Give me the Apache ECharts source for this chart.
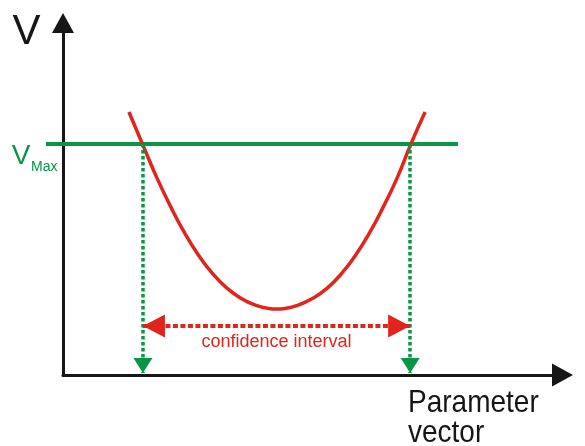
<!DOCTYPE html>
<html>
<head>
<meta charset="utf-8">
<script src="https://cdn.jsdelivr.net/npm/echarts@6/dist/echarts.min.js"></script>
<style>
html,body{margin:0;padding:0;background:#ffffff;}
#chart{width:585px;height:446px;}
</style>
</head>
<body>
<div id="chart"></div>
<script>
// ---- data (arbitrary units) ----
const curveX = [1.32, 1.60, 1.88, 2.16, 2.44, 2.72, 3.00, 3.28, 3.56, 3.84, 4.12, 4.28, 4.44, 4.72, 5.00, 5.29, 5.57, 5.85, 6.13, 6.41, 6.69, 6.97, 7.25];
const curveV = [7.47, 6.53, 5.60, 4.77, 4.02, 3.39, 2.87, 2.47, 2.18, 1.99, 1.89, 1.875, 1.89, 1.99, 2.18, 2.47, 2.87, 3.39, 4.02, 4.77, 5.60, 6.58, 7.47];
const vMax = 6.56;
const vMaxLineX = [-0.34, 7.91];
const ciBounds = [1.60, 6.95];
const ciArrowV = 1.39;
const dropEndV = 0.06;
const axisXRange = [0, 10];
const axisVRange = [0, 10];
const yAxisTitle = 'V';
const vMaxMain = 'V';
const vMaxSub = 'Max';
const xAxisTitle = 'Parameter\nvector';
const ciLabel = 'confidence interval';

// ---- styles / layout ----
const GREEN = '#089544';
const RED = '#e1251c';
const BLACK = '#161616';
const FONT = '"Liberation Sans", Arial, Helvetica, sans-serif';
const W = 585;
const GRID = {left: 63, right: 22.5, top: 23, bottom: 71};

const chart = echarts.init(document.getElementById('chart'), null, {renderer: 'canvas'});

const curveData = curveX.map((x, i) => [x, curveV[i]]);

// second (hidden) grid sharing the same scale but reaching further left, for the V_Max line
const plotW = W - GRID.left - GRID.right;
const pxPerX = plotW / (axisXRange[1] - axisXRange[0]);
const gridBLeft = GRID.left - (axisXRange[0] - vMaxLineX[0]) * pxPerX;

const hiddenAxis = {
  axisLine: {show: false}, axisTick: {show: false}, axisLabel: {show: false}, splitLine: {show: false}
};

const option = {
  animation: false,
  backgroundColor: '#ffffff',
  grid: [
    Object.assign({containLabel: false}, GRID),
    {left: gridBLeft, right: GRID.right, top: GRID.top, bottom: GRID.bottom, containLabel: false}
  ],
  xAxis: [
    {
      gridIndex: 0, type: 'value', min: axisXRange[0], max: axisXRange[1],
      axisLine: {show: true, onZero: false, symbol: ['none', 'triangle'], symbolSize: [23, 21],
        lineStyle: {color: BLACK, width: 3}},
      axisTick: {show: false}, axisLabel: {show: false}, splitLine: {show: false}
    },
    Object.assign({gridIndex: 1, type: 'value', min: vMaxLineX[0], max: axisXRange[1]}, hiddenAxis)
  ],
  yAxis: [
    {
      gridIndex: 0, type: 'value', min: axisVRange[0], max: axisVRange[1],
      axisLine: {show: true, onZero: false, symbol: ['none', 'triangle'], symbolSize: [22, 20],
        lineStyle: {color: BLACK, width: 3}},
      axisTick: {show: false}, axisLabel: {show: false}, splitLine: {show: false}
    },
    Object.assign({gridIndex: 1, type: 'value', min: axisVRange[0], max: axisVRange[1]}, hiddenAxis)
  ],
  series: [
    {
      name: 'Vmax', type: 'line', xAxisIndex: 1, yAxisIndex: 1, z: 3,
      data: [[vMaxLineX[0], vMax], [vMaxLineX[1], vMax]],
      showSymbol: false, symbol: 'none',
      lineStyle: {color: GREEN, width: 4},
      markLine: {
        silent: true, animation: false,
        symbol: ['none', 'triangle'], symbolSize: [19, 15],
        symbolOffset: [[0, 0], [0, '50%']],
        lineStyle: {color: GREEN, width: 3.5, type: [3.5, 2.5]},
        label: {show: false},
        emphasis: {disabled: true},
        data: ciBounds.map(x => [{coord: [x, vMax]}, {coord: [x, dropEndV]}])
      }
    },
    {
      name: 'V', type: 'line', clip: false, z: 4,
      data: curveData, smooth: 0.5,
      showSymbol: false, symbol: 'none',
      lineStyle: {color: RED, width: 3.5},
      markLine: {
        silent: true, animation: false,
        symbol: ['triangle', 'triangle'], symbolSize: [23, 22],
        symbolOffset: [[0, '50%'], [0, '50%']],
        lineStyle: {color: RED, width: 4, type: [5, 2.5]},
        label: {show: true, position: 'insideMiddleBottom', formatter: ciLabel,
          color: RED, fontSize: 18, fontFamily: FONT, distance: 7},
        emphasis: {disabled: true},
        data: [[{coord: [ciBounds[0], ciArrowV]}, {coord: [ciBounds[1], ciArrowV]}]]
      }
    }
  ],
  graphic: [
    {type: 'text', x: 26.5, y: 32, style: {text: yAxisTitle, font: '42px ' + FONT, fill: BLACK, align: 'center', verticalAlign: 'middle'}},
    {type: 'text', x: 21, y: 156.5, style: {text: vMaxMain, font: '28px ' + FONT, fill: GREEN, align: 'center', verticalAlign: 'middle'}},
    {type: 'text', x: 31, y: 166.7, style: {text: vMaxSub, font: '14px ' + FONT, fill: GREEN, align: 'left', verticalAlign: 'middle'}},
    {type: 'text', x: 408, y: 418, scaleY: 1.15, style: {text: xAxisTitle, font: '28px ' + FONT, lineHeight: 26, fill: BLACK, align: 'left', verticalAlign: 'middle'}}
  ]
};

chart.setOption(option);
</script>
</body>
</html>
